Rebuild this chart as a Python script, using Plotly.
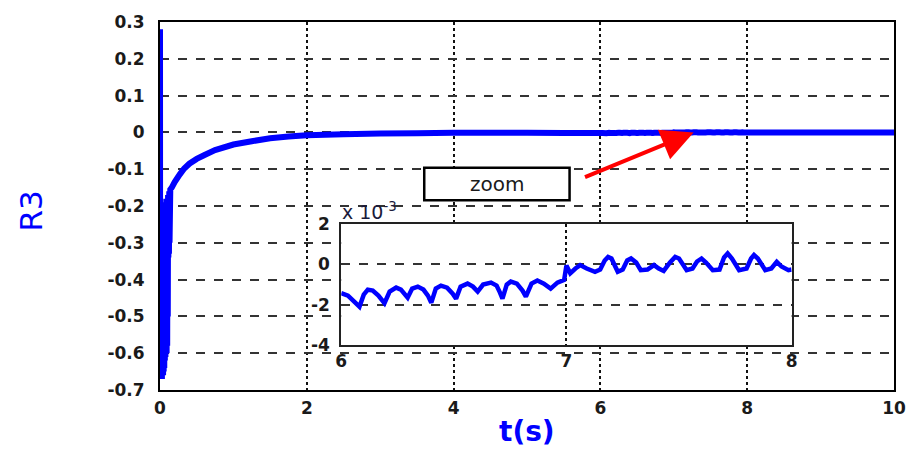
import plotly.graph_objects as go

# ---- main response R3(t) ----
t_main = [0.0, 0.002, 0.006, 0.010, 0.014, 0.018, 0.022, 0.026, 0.030, 0.034, 0.038,
          0.042, 0.046, 0.050, 0.054, 0.058, 0.062, 0.066, 0.070, 0.074, 0.078, 0.082,
          0.086, 0.090, 0.094, 0.098, 0.102, 0.106, 0.110, 0.114, 0.118, 0.122, 0.126,
          0.130, 0.14, 0.16, 0.2, 0.27, 0.33,
          0.4, 0.5, 0.6, 0.75, 1.0, 1.25, 1.5, 1.75, 2.0, 2.5, 3.0, 3.5, 4.0, 5.0, 5.5]
r3_main = [0.28, -0.67, -0.21, -0.67, -0.21, -0.67, -0.2, -0.67, -0.2, -0.66, -0.2,
           -0.66, -0.2, -0.65, -0.19, -0.64, -0.19, -0.62, -0.19, -0.61, -0.19, -0.6,
           -0.18, -0.6, -0.18, -0.58, -0.18, -0.5, -0.17, -0.34, -0.17, -0.33, -0.16,
           -0.3, -0.155, -0.15, -0.135, -0.114, -0.098,
           -0.085, -0.072, -0.062, -0.048, -0.033, -0.024, -0.016, -0.011, -0.008,
           -0.005, -0.003, -0.002, -0.0012, -0.0012, -0.0013]

# ---- zoomed window 6 s .. 8 s, values in units of 1e-3 ----
t_zoom = [6.0, 6.03, 6.081, 6.1, 6.118, 6.14, 6.165, 6.192, 6.215, 6.244, 6.265,
          6.295, 6.315, 6.34, 6.365, 6.385, 6.40, 6.42, 6.443, 6.47, 6.495, 6.51,
          6.53, 6.561, 6.585, 6.606, 6.63, 6.665, 6.69, 6.705, 6.716, 6.735, 6.753,
          6.78, 6.805, 6.82, 6.845, 6.871, 6.9, 6.93, 6.96, 6.99, 7.0,
          7.017, 7.04, 7.061, 7.09, 7.127, 7.15, 7.17, 7.185, 7.2, 7.228, 7.25,
          7.27, 7.287, 7.31, 7.33, 7.36, 7.389, 7.41, 7.432, 7.46, 7.483, 7.5,
          7.534, 7.56, 7.58, 7.6, 7.62, 7.65, 7.68, 7.70, 7.716, 7.735, 7.767,
          7.8, 7.82, 7.833, 7.85, 7.883, 7.91, 7.934, 7.955, 7.986, 8.0]
r3_zoom_e3 = [-1.43, -1.55, -2.1, -1.5, -1.25, -1.3, -1.55, -1.93, -1.35, -1.15, -1.25,
              -1.65, -1.2, -1.1, -1.25, -1.55, -1.9, -1.2, -1.05, -1.15, -1.45, -1.7,
              -1.1, -0.95, -1.1, -1.35, -1.0, -0.9, -1.05, -1.4, -1.7, -1.0, -0.85,
              -0.95, -1.3, -1.6, -0.95, -0.8, -0.95, -1.2, -0.9, -0.77, -0.05,
              -0.44, -0.2, -0.03, -0.2, -0.36, -0.25, 0.2, 0.38, 0.3, -0.36, -0.25,
              0.2, 0.30, 0.1, -0.28, -0.25, -0.03, -0.2, -0.32, 0.1, 0.38, 0.3,
              -0.28, -0.2, 0.15, 0.30, 0.1, -0.28, -0.25, 0.35, 0.55, 0.3, -0.28,
              -0.2, 0.3, 0.47, 0.3, -0.28, -0.2, 0.13, -0.1, -0.28, -0.25]

# ---- settled tail ----
t_tail = [8.5, 9.0, 9.5, 10.0]
r3_tail = [0.0, 0.0, 0.0, 0.0]

x_ticks = [0, 2, 4, 6, 8, 10]
y_ticks = [0.3, 0.2, 0.1, 0.0, -0.1, -0.2, -0.3, -0.4, -0.5, -0.6, -0.7]
y_tick_text = ["0.3", "0.2", "0.1", "0", "-0.1", "-0.2", "-0.3", "-0.4", "-0.5", "-0.6", "-0.7"]
zoom_x_ticks = [6, 7, 8]
zoom_y_ticks = [2, 0, -2, -4]
zoom_y_text = ["2", "0", "-2", "-4"]

BLUE = "#0000ff"
FONT = "DejaVu Sans"
TICKFONT = dict(family=FONT, size=17, color="#1a1a1a", weight="bold")

t_all = t_main + t_zoom + t_tail
r3_all = r3_main + [v * 1e-3 for v in r3_zoom_e3] + r3_tail

fig = go.Figure()
fig.add_trace(go.Scatter(x=t_all, y=r3_all, mode="lines",
                         line=dict(color=BLUE, width=6, simplify=False), showlegend=False,
                         xaxis="x", yaxis="y"))
fig.add_trace(go.Scatter(x=t_zoom, y=r3_zoom_e3, mode="lines",
                         line=dict(color=BLUE, width=4.5, simplify=False), showlegend=False,
                         xaxis="x2", yaxis="y2"))

fig.update_layout(
    width=918, height=451,
    margin=dict(l=160, r=22, t=17, b=61),
    paper_bgcolor="white", plot_bgcolor="white",
    xaxis=dict(range=[0, 10], tickvals=x_ticks, ticktext=[str(v) for v in x_ticks],
               showgrid=True, gridcolor="#111", gridwidth=2, griddash="dot",
               zeroline=False, showline=True, linecolor="black", linewidth=2,
               mirror=True, ticks="", tickfont=TICKFONT, ticklabelstandoff=2),
    yaxis=dict(range=[-0.7, 0.3], tickvals=y_ticks, ticktext=y_tick_text,
               showgrid=True, gridcolor="#333", gridwidth=1.5, griddash="dash",
               zeroline=False, showline=True, linecolor="black", linewidth=2,
               mirror=True, ticks="", tickfont=TICKFONT, ticklabelstandoff=10),
    xaxis2=dict(domain=[0.2469, 0.8605], anchor="y2", range=[6, 8],
                tickvals=zoom_x_ticks, ticktext=[str(v) for v in zoom_x_ticks],
                showgrid=True, gridcolor="#111", gridwidth=2, griddash="dot",
                zeroline=False, showline=True, linecolor="#222", linewidth=2,
                mirror=True, ticks="", tickfont=TICKFONT, ticklabelstandoff=0),
    yaxis2=dict(domain=[0.1227, 0.4502], anchor="x2", range=[-4, 2],
                tickvals=zoom_y_ticks, ticktext=zoom_y_text,
                showgrid=True, gridcolor="#333", gridwidth=1.5, griddash="dash",
                zeroline=False, showline=True, linecolor="#222", linewidth=2,
                mirror=True, ticks="", tickfont=TICKFONT, ticklabelstandoff=6),
)

# axis titles
fig.add_annotation(text="t(s)", xref="paper", yref="paper", x=0.5, y=-0.113,
                   showarrow=False, yanchor="middle", xanchor="center",
                   font=dict(family=FONT, size=28, color=BLUE, weight="bold"))
fig.add_annotation(text="R3", xref="paper", yref="paper", x=-0.177, y=0.485,
                   showarrow=False, textangle=-90, xanchor="center", yanchor="middle",
                   font=dict(family=FONT, size=31, color=BLUE))

# exponent label of the zoomed axis
fig.add_annotation(text="x 10<sup>-3</sup>", xref="paper", yref="paper",
                   x=0.2446, y=0.487, xanchor="left", yanchor="middle", showarrow=False,
                   font=dict(family=FONT, size=19, color="#1a1a3a"))

# "zoom" label box
fig.add_shape(type="rect", xref="x", yref="y", x0=3.6, x1=5.58, y0=-0.1846, y1=-0.096,
              line=dict(color="black", width=2.5), fillcolor="white", layer="above")
fig.add_annotation(text="zoom", xref="x", yref="y", x=4.59, y=-0.14, showarrow=False,
                   font=dict(family=FONT, size=20, color="#1a1a1a"))

# red pointer from the label to the settled trace
fig.add_annotation(x=7.27, y=0.0, ax=5.77, ay=-0.123, xref="x", yref="y",
                   axref="x", ayref="y", text="", showarrow=True,
                   arrowhead=2, arrowsize=1.6, arrowwidth=4, arrowcolor="#ff0000",
                   standoff=0)

fig.write_html("out.html")
